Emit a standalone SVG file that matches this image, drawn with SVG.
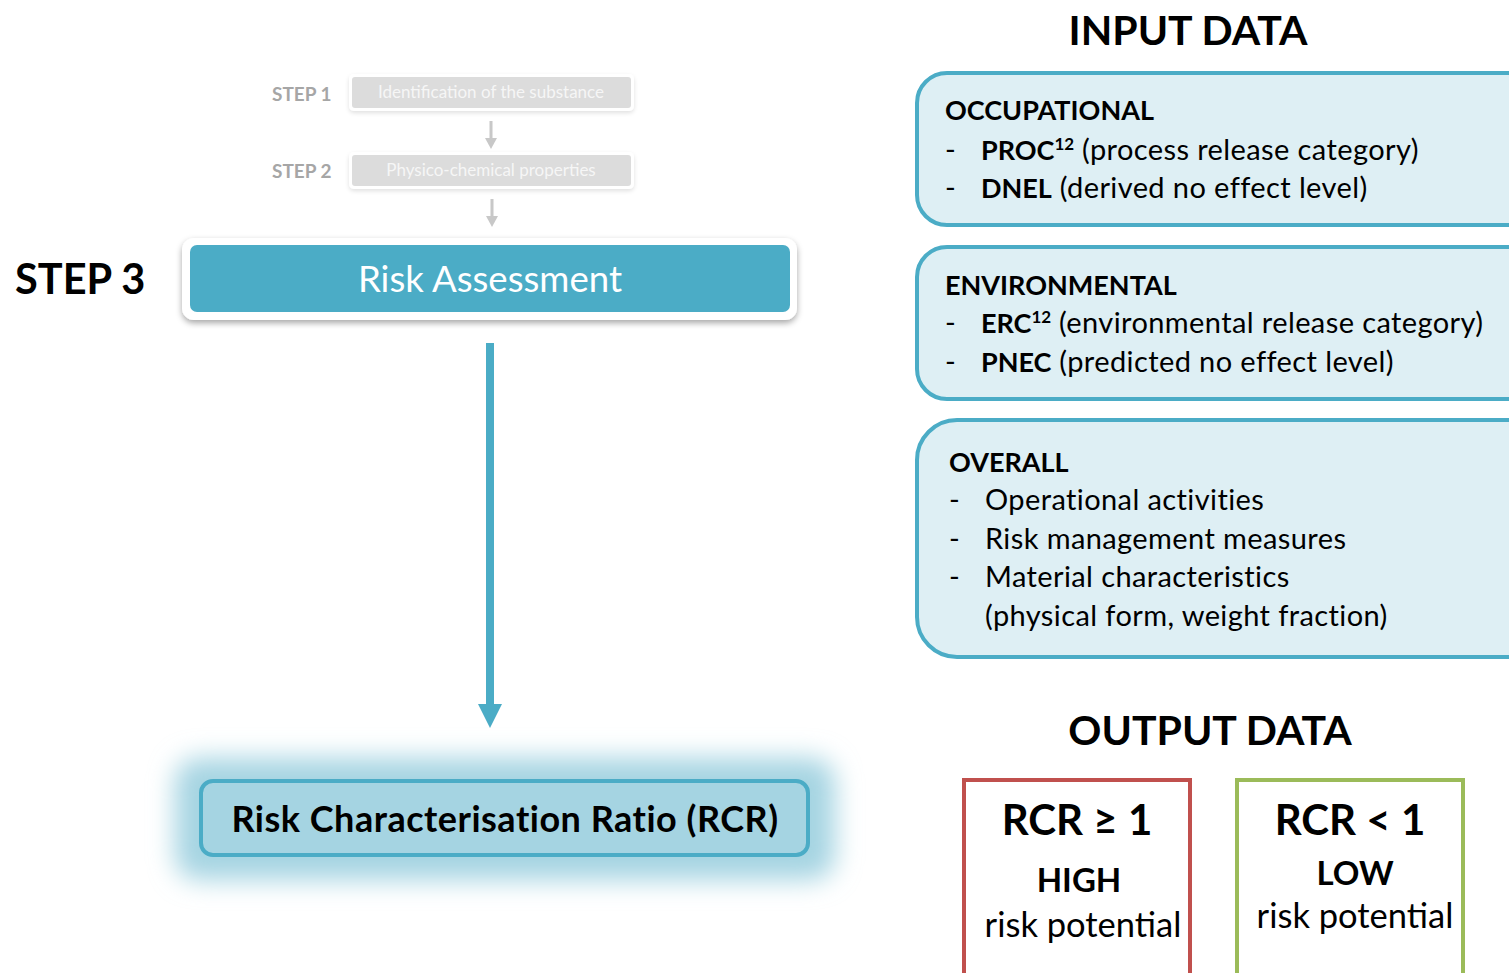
<svg xmlns="http://www.w3.org/2000/svg" width="1509" height="973" viewBox="0 0 1509 973">
<defs>
<style>
text{font-family:Lato,"Open Sans","Liberation Sans",sans-serif}
.b{font-weight:bold}
.step{fill:#a6a6a6;font-size:19px;font-weight:bold}
.sbox{fill:#dcdcdc}
.stxt{fill:#f6f6f6;font-size:17px}
.inbox{fill:#deeff4;stroke:#4bacc6;stroke-width:4}
.it{font-size:29px;fill:#000;letter-spacing:0.4px}
.it .b,.ib{font-size:27px;font-weight:bold;letter-spacing:0}
.it .sup{font-size:17px;font-weight:bold;letter-spacing:0}
.ib{fill:#000}
.ot{fill:#000;text-anchor:middle}
.ga{fill:#c8c8c8}
</style>
<filter id="sh" x="-10%" y="-30%" width="120%" height="170%">
<feDropShadow dx="0" dy="3" stdDeviation="3" flood-color="#000" flood-opacity="0.35"/>
</filter>
<filter id="shl" x="-10%" y="-30%" width="120%" height="170%">
<feDropShadow dx="0" dy="2" stdDeviation="2" flood-color="#000" flood-opacity="0.12"/>
</filter>
<filter id="glow" x="-20%" y="-60%" width="140%" height="220%">
<feGaussianBlur stdDeviation="13"/>
</filter>
</defs>
<rect width="1509" height="973" fill="#fff"/>

<g id="step1">
<text class="step" x="272" y="101">STEP 1</text>
<rect x="349" y="74" width="285" height="37" rx="5" fill="#fff" filter="url(#shl)"/>
<rect class="sbox" x="352" y="77" width="279" height="31" rx="3"/>
<text class="stxt" x="491" y="98" text-anchor="middle">Identification  of the substance</text>
</g>
<g id="step2">
<text class="step" x="272" y="178">STEP 2</text>
<rect x="349" y="152" width="285" height="37" rx="5" fill="#fff" filter="url(#shl)"/>
<rect class="sbox" x="352" y="155" width="279" height="31" rx="3"/>
<text class="stxt" x="491" y="176" text-anchor="middle">Physico-chemical  properties</text>
</g>
<g id="step3">
<text class="b" x="15" y="294" font-size="41.5" fill="#000">STEP 3</text>
<rect x="182" y="238" width="615" height="82" rx="12" fill="#fff" filter="url(#sh)"/>
<rect x="190" y="245" width="600" height="67" rx="7" fill="#4bacc6"/>
<text x="490" y="292" font-size="36.6" fill="#fff" text-anchor="middle">Risk Assessment</text>
</g>
<g id="rcr">
<rect x="175" y="758" width="660" height="122" rx="24" fill="#a5d4e2" filter="url(#glow)"/>
<rect x="201" y="781" width="607" height="74" rx="12" fill="#a5d4e2" stroke="#4bacc6" stroke-width="4"/>
<text class="b" x="505" y="832" font-size="36" letter-spacing="0.5" fill="#000" text-anchor="middle">Risk Characterisation Ratio (RCR)</text>
</g>

<g id="connectors">
<rect class="ga" x="489.5" y="121" width="3" height="18"/>
<path class="ga" d="M485,138 L497,138 L491,149 Z"/>
<rect class="ga" x="490.5" y="199" width="3" height="18"/>
<path class="ga" d="M486,216 L498,216 L492,227 Z"/>
<line x1="490" y1="343" x2="490" y2="708" stroke="#4bacc6" stroke-width="8"/>
<path d="M478,704 L502,704 L490,728 Z" fill="#4bacc6"/>
</g>

<g id="input-title">
<text class="b ot" x="1188" y="45" font-size="41">INPUT DATA</text>
</g>
<g id="occupational">
<rect class="inbox" x="917" y="73" width="640" height="152" rx="30"/>
<text class="ib" x="945" y="120">OCCUPATIONAL</text>
<text class="it" x="945" y="160">-</text>
<text class="it" x="981" y="160"><tspan class="b">PROC</tspan><tspan class="sup" dy="-10">12</tspan><tspan dy="10"> (process release category)</tspan></text>
<text class="it" x="945" y="198">-</text>
<text class="it" x="981" y="198"><tspan class="b">DNEL</tspan> (derived no effect level)</text>
</g>
<g id="environmental">
<rect class="inbox" x="917" y="247" width="640" height="152" rx="30"/>
<text class="ib" x="945" y="295">ENVIRONMENTAL</text>
<text class="it" x="945" y="333">-</text>
<text class="it" x="981" y="333"><tspan class="b">ERC</tspan><tspan class="sup" dy="-10">12</tspan><tspan dy="10"> (environmental release category)</tspan></text>
<text class="it" x="945" y="372">-</text>
<text class="it" x="981" y="372"><tspan class="b">PNEC</tspan> (predicted no effect level)</text>
</g>
<g id="overall">
<rect class="inbox" x="917" y="420" width="640" height="237" rx="40"/>
<text class="ib" x="949" y="472">OVERALL</text>
<text class="it" x="949" y="510">-</text>
<text class="it" x="985" y="510">Operational activities</text>
<text class="it" x="949" y="549">-</text>
<text class="it" x="985" y="549">Risk management measures</text>
<text class="it" x="949" y="587">-</text>
<text class="it" x="985" y="587">Material characteristics</text>
<text class="it" x="985" y="626">(physical form, weight fraction)</text>
</g>

<g id="output-title">
<text class="b ot" x="1210" y="745" font-size="41">OUTPUT DATA</text>
</g>
<g id="high">
<rect x="964" y="780" width="226" height="200" fill="#fff" stroke="#c0504d" stroke-width="4"/>
<text class="b ot" x="1077" y="835" font-size="42">RCR ≥ 1</text>
<text class="b ot" x="1079" y="892" font-size="33">HIGH</text>
<text class="ot" x="1083" y="937" font-size="34.5">risk potential</text>
</g>
<g id="low">
<rect x="1237" y="780" width="226" height="200" fill="#fff" stroke="#9bbb59" stroke-width="4"/>
<text class="b ot" x="1350" y="835" font-size="42">RCR &lt; 1</text>
<text class="b ot" x="1355" y="885" font-size="33">LOW</text>
<text class="ot" x="1355" y="928" font-size="34.5">risk potential</text>
</g>
</svg>
